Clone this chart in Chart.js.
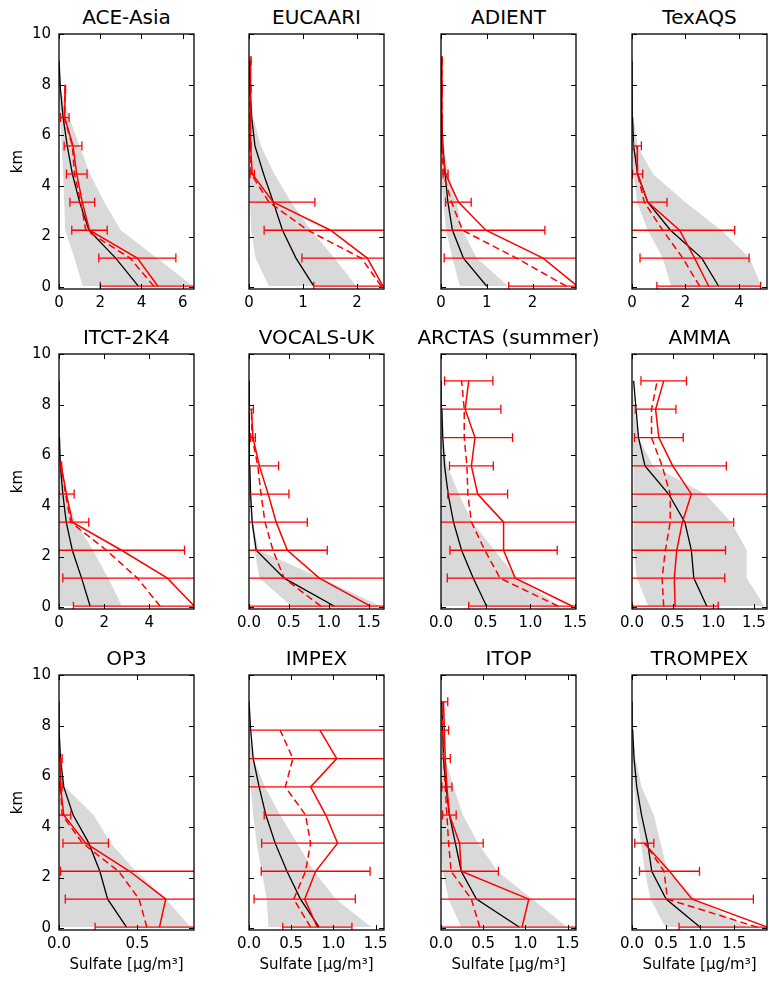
<!DOCTYPE html>
<html lang="en">
<head>
<meta charset="UTF-8">
<title>Sulfate profiles</title>
<script src="https://cdn.jsdelivr.net/npm/chart.js"></script>
<style>
  body { margin: 0; background: #fff; width: 769px; height: 981px; position: relative; overflow: hidden; }
  canvas { position: absolute; }
  .title { position: absolute; transform: translateX(-50%); white-space: nowrap;
           font: 20px "DejaVu Sans", sans-serif; line-height: 24px; color: #000; }
</style>
</head>
<body>
<script>
// altitude levels (km) shared by model and observations
const altitudes = [0.04, 1.15, 2.25, 3.36, 4.47, 5.58, 6.7, 7.82, 8.94];

const campaigns = ['ACE-Asia', 'EUCAARI', 'ADIENT', 'TexAQS', 'ITCT-2K4', 'VOCALS-UK',
  'ARCTAS (summer)', 'AMMA', 'OP3', 'IMPEX', 'ITOP', 'TROMPEX'];
const xMaxes = [6.55, 2.5, 2.95, 5.05, 5.98, 1.69, 1.51, 1.66, 0.86, 1.6, 1.6, 1.98];
const xSteps = [2, 1, 1, 2, 2, 0.5, 0.5, 0.5, 0.5, 0.5, 0.5, 0.5];
const xDecimals = [0, 0, 0, 0, 0, 1, 1, 1, 1, 1, 1, 1];

// model mean / min / max, observed mean / std / median
const aceAsiaModel = [3.85, 2.75, 1.45, 1.0, 0.65, 0.4, 0.2, 0.07, 0.0];
const aceAsiaMin = [1.15, 0.75, 0.3, 0.25, 0.2, 0.13, 0.05, 0.0, 0.0];
const aceAsiaMax = [6.5, 4.75, 3.0, 2.2, 1.5, 1.0, 0.5, 0.08, 0.0];
const aceAsiaMean = [4.8, 3.8, 1.48, 1.13, 0.86, 0.68, 0.28, 0.3];
const aceAsiaStd = [2.8, 1.87, 0.86, 0.6, 0.5, 0.43, 0.21, 0.02];
const aceAsiaMedian = [4.6, 3.45, 1.3, 1.05, 0.75, 0.65, 0.25, 0.3];

const eucaariModel = [1.2, 0.87, 0.62, 0.45, 0.27, 0.11, 0.05, 0.02, 0.0];
const eucaariMin = [0.37, 0.12, 0.04, 0.02, 0.01, 0.0, 0.0, 0.0, 0.0];
const eucaariMax = [1.99, 1.58, 1.15, 0.78, 0.47, 0.22, 0.08, 0.02, 0.0];
const eucaariMean = [2.48, 2.19, 1.51, 0.45, 0.06, 0.03, 0.03, 0.03, 0.03];
const eucaariStd = [1.28, 1.21, 1.23, 0.77, 0.04, 0.01, 0.01, 0.01, 0.01];
const eucaariMedian = [2.45, 2.08, 1.09, 0.37, 0.04, 0.02, 0.02, 0.02, 0.02];

const adientModel = [1.0, 0.49, 0.25, 0.15, 0.09, 0.04, 0.02, 0.01, 0.0];
const adientMin = [0.41, 0.25, 0.11, 0.05, 0.02, 0.0, 0.0, 0.0, 0.0];
const adientMax = [1.47, 0.78, 0.47, 0.34, 0.16, 0.07, 0.02, 0.0, 0.0];
const adientMean = [2.98, 2.23, 0.98, 0.38, 0.1, 0.02, 0.02, 0.02, 0.02];
const adientStd = [1.5, 2.16, 1.29, 0.28, 0.055, 0.01, 0.01, 0.01, 0.01];
const adientMedian = [2.74, 1.65, 0.47, 0.23, 0.05, 0.02, 0.02, 0.02, 0.02];

const texaqsModel = [3.24, 2.61, 1.44, 0.59, 0.21, 0.06, 0.02, 0.0, 0.0];
const texaqsMin = [1.46, 1.15, 0.59, 0.19, 0.06, 0.0, 0.0, 0.0, 0.0];
const texaqsMax = [4.84, 4.4, 3.34, 2.0, 0.78, 0.21, 0.05, 0.0, 0.0];
const texaqsMean = [2.87, 2.34, 1.78, 0.59, 0.21, 0.2];
const texaqsStd = [1.94, 2.04, 2.06, 0.72, 0.19, 0.15];
const texaqsMedian = [2.53, 1.9, 1.15, 0.46, 0.21, 0.19];

const itctModel = [1.38, 1.0, 0.59, 0.32, 0.17, 0.06, 0.02, 0.0, 0.0];
const itctMin = [0.02, 0.02, 0.01, 0.01, 0.0, 0.0, 0.0, 0.0, 0.0];
const itctMax = [2.79, 2.18, 1.5, 0.74, 0.29, 0.1, 0.02, 0.0, 0.0];
const itctMean = [6.0, 4.8, 2.77, 0.59, 0.33, 0.1];
const itctStd = [5.36, 4.63, 2.79, 0.73, 0.34, 0.02];
const itctMedian = [4.48, 3.47, 2.1, 0.52, 0.29, 0.1];

const vocalsModel = [1.07, 0.44, 0.09, 0.04, 0.02, 0.01, 0.01, 0.0, 0.0];
const vocalsMin = [0.53, 0.13, 0.07, 0.03, 0.01, 0.0, 0.0, 0.0, 0.0];
const vocalsMax = [1.65, 0.9, 0.12, 0.05, 0.02, 0.01, 0.0, 0.0, 0.0];
const vocalsMean = [1.52, 0.88, 0.48, 0.34, 0.24, 0.13, 0.05, 0.03];
const vocalsStd = [1.6, 1.0, 0.5, 0.39, 0.26, 0.24, 0.03, 0.025];
const vocalsMedian = [0.9, 0.44, 0.3, 0.2, 0.15, 0.11, 0.04, 0.03];

const arctasModel = [0.51, 0.36, 0.23, 0.14, 0.08, 0.04, 0.02, 0.01, 0.0];
const arctasMin = [0.0, 0.0, 0.0, 0.0, 0.0, 0.0, 0.0, 0.0, 0.0];
const arctasMax = [1.33, 0.85, 0.6, 0.35, 0.2, 0.07, 0.02, 0.0, 0.0];
const arctasMean = [1.47, 0.83, 0.7, 0.7, 0.41, 0.34, 0.38, 0.27, 0.31];
const arctasStd = [1.16, 0.76, 0.6, 0.85, 0.335, 0.245, 0.42, 0.4, 0.27];
const arctasMedian = [1.31, 0.66, 0.49, 0.34, 0.3, 0.29, 0.26, 0.26, 0.23];

const ammaModel = [0.92, 0.76, 0.73, 0.65, 0.45, 0.16, 0.08, 0.05, 0.02];
const ammaMin = [0.2, 0.06, 0.02, 0.02, 0.02, 0.02, 0.01, 0.0, 0.0];
const ammaMax = [1.63, 1.41, 1.41, 1.22, 0.9, 0.26, 0.08, 0.03, 0.0];
const ammaMean = [0.53, 0.52, 0.55, 0.62, 0.73, 0.5, 0.33, 0.29, 0.39];
const ammaStd = [0.53, 0.62, 0.6, 0.63, 1.0, 0.66, 0.3, 0.25, 0.28];
const ammaMedian = [0.39, 0.37, 0.41, 0.47, 0.47, 0.37, 0.24, 0.24, 0.31];

const op3Model = [0.43, 0.31, 0.26, 0.19, 0.09, 0.03, 0.01, 0.0, 0.0];
const op3Min = [0.005, 0.005, 0.005, 0.005, 0.005, 0.005, 0.0, 0.0, 0.0];
const op3Max = [0.84, 0.68, 0.49, 0.33, 0.22, 0.04, 0.0, 0.0, 0.0];
const op3Mean = [0.64, 0.68, 0.45, 0.17, 0.03, 0.01, 0.01];
const op3Std = [0.41, 0.64, 0.44, 0.145, 0.045, 0.01, 0.01];
const op3Median = [0.56, 0.51, 0.38, 0.15, 0.02, 0.01, 0.01];

const impexModel = [0.83, 0.61, 0.45, 0.31, 0.2, 0.12, 0.05, 0.02, 0.0];
const impexMin = [0.23, 0.21, 0.15, 0.09, 0.05, 0.02, 0.0, 0.0, 0.0];
const impexMax = [1.45, 1.03, 0.77, 0.57, 0.37, 0.19, 0.05, 0.0, 0.0];
const impexMean = [0.81, 0.66, 0.79, 1.05, 0.91, 0.73, 1.04, 0.84];
const impexStd = [0.41, 0.6, 0.645, 0.9, 0.73, 1.0, 1.3, 1.1];
const impexMedian = [0.73, 0.53, 0.67, 0.73, 0.67, 0.43, 0.52, 0.37];

const itopModel = [0.93, 0.42, 0.24, 0.17, 0.1, 0.06, 0.03, 0.02, 0.01];
const itopMin = [0.24, 0.09, 0.02, 0.01, 0.0, 0.0, 0.0, 0.0, 0.0];
const itopMax = [1.5, 1.08, 0.67, 0.44, 0.26, 0.15, 0.05, 0.02, 0.0];
const itopMean = [0.96, 1.04, 0.24, 0.22, 0.1, 0.07, 0.05, 0.04, 0.03];
const itopStd = [1.0, 1.1, 0.44, 0.28, 0.08, 0.06, 0.06, 0.05, 0.05];
const itopMedian = [0.46, 0.36, 0.12, 0.09, 0.07, 0.05, 0.03, 0.02, 0.02];

const trompexModel = [1.0, 0.5, 0.29, 0.23, 0.14, 0.07, 0.03, 0.01, 0.0];
const trompexMin = [0.49, 0.27, 0.19, 0.13, 0.07, 0.03, 0.01, 0.0, 0.0];
const trompexMax = [1.69, 0.94, 0.52, 0.42, 0.32, 0.14, 0.05, 0.01, 0.0];
const trompexMean = [1.99, 0.88, 0.55, 0.18];
const trompexStd = [1.3, 0.9, 0.44, 0.14];
const trompexMedian = [1.84, 0.52, 0.47, 0.19];

const series = [
  [aceAsiaModel, aceAsiaMin, aceAsiaMax, aceAsiaMean, aceAsiaStd, aceAsiaMedian],
  [eucaariModel, eucaariMin, eucaariMax, eucaariMean, eucaariStd, eucaariMedian],
  [adientModel, adientMin, adientMax, adientMean, adientStd, adientMedian],
  [texaqsModel, texaqsMin, texaqsMax, texaqsMean, texaqsStd, texaqsMedian],
  [itctModel, itctMin, itctMax, itctMean, itctStd, itctMedian],
  [vocalsModel, vocalsMin, vocalsMax, vocalsMean, vocalsStd, vocalsMedian],
  [arctasModel, arctasMin, arctasMax, arctasMean, arctasStd, arctasMedian],
  [ammaModel, ammaMin, ammaMax, ammaMean, ammaStd, ammaMedian],
  [op3Model, op3Min, op3Max, op3Mean, op3Std, op3Median],
  [impexModel, impexMin, impexMax, impexMean, impexStd, impexMedian],
  [itopModel, itopMin, itopMax, itopMean, itopStd, itopMedian],
  [trompexModel, trompexMin, trompexMax, trompexMean, trompexStd, trompexMedian]
];

// layout of the plot boxes on the page
const colLeft = [59, 249, 441, 632];
const rowTop = [34, 354, 675];
const plotW = 135, plotH = 255;
const padL = 55, padR = 30, padT = 34, padB = 50;

Chart.defaults.font.family = '"DejaVu Sans", sans-serif';
Chart.defaults.color = '#000';

// frame and inward ticks on all four sides, like the matplotlib original
const frameTicks = {
  id: 'frameTicks',
  afterDatasetsDraw(chart) {
    const ctx = chart.ctx, a = chart.chartArea;
    const xs = chart.scales.x, ys = chart.scales.y;
    ctx.save();
    ctx.strokeStyle = '#000';
    ctx.lineWidth = 1;
    ctx.beginPath();
    xs.ticks.forEach(t => {
      const px = Math.round(xs.getPixelForValue(t.value)) + 0.5;
      ctx.moveTo(px, a.bottom); ctx.lineTo(px, a.bottom - 5);
      ctx.moveTo(px, a.top); ctx.lineTo(px, a.top + 5);
    });
    ys.ticks.forEach(t => {
      const py = Math.round(ys.getPixelForValue(t.value)) + 0.5;
      ctx.moveTo(a.left, py); ctx.lineTo(a.left + 5, py);
      ctx.moveTo(a.right, py); ctx.lineTo(a.right - 5, py);
    });
    ctx.stroke();
    ctx.lineWidth = 1.3;
    ctx.strokeRect(a.left, a.top, a.right - a.left, a.bottom - a.top);
    ctx.restore();
  }
};

function pts(values) {
  return values.map((v, k) => ({x: v, y: altitudes[k]}));
}

campaigns.forEach((name, i) => {
  const col = i % 4, row = Math.floor(i / 4);
  const [model, mMin, mMax, mean, std, median] = series[i];

  const title = document.createElement('div');
  title.className = 'title';
  title.textContent = name;
  title.style.left = (colLeft[col] + plotW / 2) + 'px';
  title.style.top = (rowTop[row] - 29) + 'px';
  document.body.appendChild(title);

  const canvas = document.createElement('canvas');
  canvas.width = padL + plotW + padR;
  canvas.height = padT + plotH + padB;
  canvas.style.left = (colLeft[col] - padL) + 'px';
  canvas.style.top = (rowTop[row] - padT) + 'px';
  document.body.appendChild(canvas);

  const datasets = [
    {data: pts(mMin), borderWidth: 0, pointRadius: 0, fill: false, order: 20},
    {data: pts(mMax), borderWidth: 0, pointRadius: 0, fill: '-1', backgroundColor: '#d9d9d9', order: 19},
    {data: pts(model), borderColor: '#000', borderWidth: 1.3, pointRadius: 0, fill: false, order: 10}
  ];
  mean.forEach((m, k) => {
    datasets.push({
      data: [{x: m - std[k], y: altitudes[k]}, {x: m + std[k], y: altitudes[k]}],
      borderColor: '#ff0000', borderWidth: 1.3, fill: false,
      pointStyle: 'line', rotation: 90, pointRadius: 4.5,
      pointBorderColor: '#ff0000', pointBorderWidth: 1.3, order: 3
    });
  });
  datasets.push({data: pts(mean), borderColor: '#ff0000', borderWidth: 1.5, pointRadius: 0, fill: false, order: 2});
  datasets.push({data: pts(median), borderColor: '#ff0000', borderWidth: 1.5, borderDash: [7, 4], pointRadius: 0, fill: false, order: 1});

  new Chart(canvas, {
    type: 'line',
    data: {datasets},
    plugins: [frameTicks],
    options: {
      responsive: false,
      animation: false,
      indexAxis: 'y',
      layout: {padding: {left: 0, right: padR, top: padT, bottom: 0}},
      plugins: {
        legend: {display: false},
        tooltip: {enabled: false}
      },
      scales: {
        x: {
          type: 'linear', min: 0, max: xMaxes[i],
          grid: {display: false, drawTicks: false},
          border: {display: false},
          ticks: {
            stepSize: xSteps[i], includeBounds: false, autoSkip: false, maxRotation: 0,
            padding: 5, font: {size: 15}, color: '#000',
            callback: v => Number(v).toFixed(xDecimals[i])
          },
          title: {
            display: row === 2, text: 'Sulfate [μg/m³]', color: '#000',
            font: {size: 15}, padding: {top: 2, bottom: 6}
          },
          afterFit: s => { s.height = padB; }
        },
        y: {
          type: 'linear', min: -0.07, max: 10,
          grid: {display: false, drawTicks: false},
          border: {display: false},
          ticks: {
            display: col === 0, stepSize: 2, includeBounds: false, autoSkip: false,
            padding: 8, font: {size: 15}, color: '#000'
          },
          title: {
            display: col === 0, text: 'km', color: '#000',
            font: {size: 15}, padding: {top: 5, bottom: 0}
          },
          afterFit: s => { s.width = padL; }
        }
      }
    }
  });
});
</script>
</body>
</html>
